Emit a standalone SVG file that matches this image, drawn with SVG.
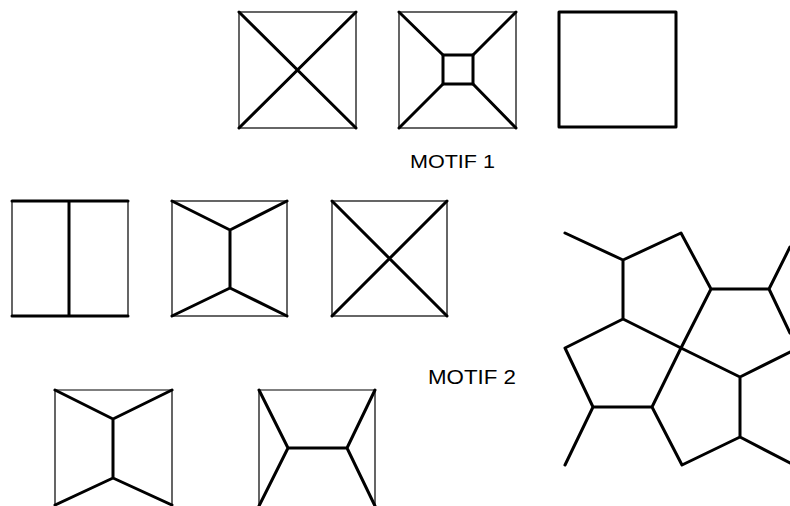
<svg xmlns="http://www.w3.org/2000/svg" width="790" height="506" viewBox="0 0 790 506">
<style>
.thin{fill:none;stroke:#000;stroke-width:1.2}
.thick{fill:none;stroke:#000;stroke-width:3;stroke-linecap:round;stroke-linejoin:round}
.lbl{font-family:"Liberation Sans",Arial,sans-serif;fill:#000}
</style>
<rect width="790" height="506" fill="#fff"/>
<g id="m1a">
<rect class="thin" x="239" y="12" width="117" height="116"/>
<path class="thick" d="M239 12L356 128M356 12L239 128"/>
</g>
<g id="m1b">
<rect class="thin" x="399" y="12" width="117" height="116"/>
<rect class="thick" x="443" y="55" width="30" height="29"/>
<path class="thick" d="M399 12L443 55M516 12L473 55M399 128L443 84M516 128L473 84"/>
</g>
<g id="m1c">
<rect class="thick" x="559" y="12" width="117" height="115" stroke-linecap="square"/>
</g>
<text class="lbl" x="410" y="168" font-size="18.6" textLength="85" lengthAdjust="spacingAndGlyphs">MOTIF 1</text>
<g id="m2a">
<path class="thin" d="M12 201V316M128 201V316"/>
<path class="thick" d="M12 201H128M12 316H128M69 201V316"/>
</g>
<g id="m2b">
<rect class="thin" x="172" y="201" width="115" height="115"/>
<path class="thick" d="M172 201L230 230L287 201M230 230V288M172 316L230 288L287 316"/>
</g>
<g id="m2c">
<rect class="thin" x="332" y="201" width="115" height="115"/>
<path class="thick" d="M332 201L447 316M447 201L332 316"/>
</g>
<g id="m2d">
<path class="thin" d="M55 390V506M172 390V506M55 390H172"/>
<path class="thick" d="M55 390L113 419L172 390M113 419V478M55 505L113 478L172 505"/>
</g>
<g id="m2e">
<path class="thin" d="M259 390V506M375 390V506M259 390H375"/>
<path class="thick" d="M259 390L288 448L259 506M288 448H347M375 390L347 448L375 506"/>
</g>
<text class="lbl" x="428" y="384" font-size="20" textLength="88" lengthAdjust="spacingAndGlyphs">MOTIF 2</text>
<g id="tiling">
<path class="thick" d="M565 233L623 260L681 233L711 289L769 289L790 247M769 289L790 333M623 260V319L681 348L740 377L790 352M711 289L681 348L652 407L593 407L565 348L623 319M593 407L565 465M652 407L682 465L740 437V377M740 437L790 463"/>
</g>
</svg>
